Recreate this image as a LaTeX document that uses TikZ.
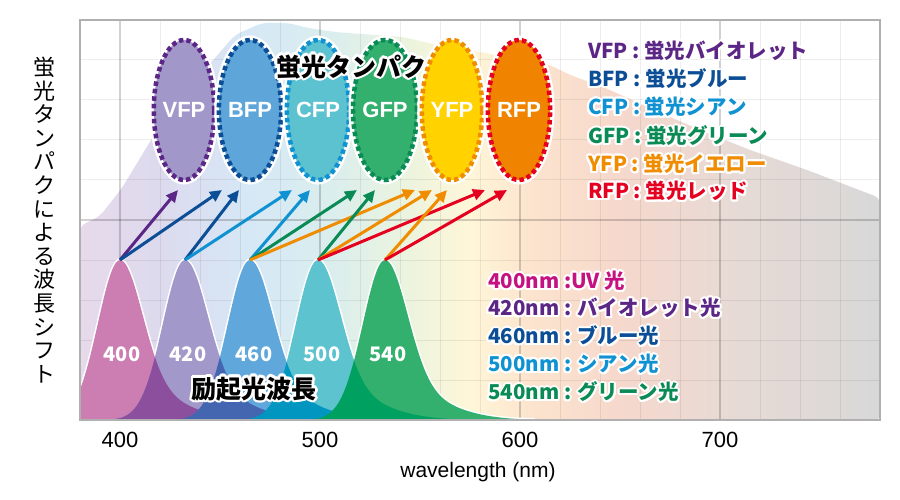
\documentclass[tikz,border=0pt]{standalone}
\usepackage{fontspec}
\setmainfont{Liberation Sans}
\newfontfamily\jp{Noto Sans CJK JP}
\usepackage[copies]{contour}
\contourlength{2pt}
\contournumber{16}
\usetikzlibrary{shapes.geometric,arrows.meta}

% line and text colours
\definecolor{cV}{RGB}{92,38,134}
\definecolor{cB}{RGB}{12,78,150}
\definecolor{cC}{RGB}{16,146,210}
\definecolor{cG}{RGB}{10,138,84}
\definecolor{cY}{RGB}{240,140,0}
\definecolor{cR}{RGB}{230,0,32}
\definecolor{cUV}{RGB}{198,18,128}
% protein fills
\definecolor{fV}{RGB}{161,151,201}
\definecolor{fB}{RGB}{94,166,218}
\definecolor{fC}{RGB}{92,194,207}
\definecolor{fG}{RGB}{51,176,110}
\definecolor{fY}{RGB}{255,210,0}
\definecolor{fR}{RGB}{240,131,0}
% excitation peaks and their overlaps
\definecolor{k400}{RGB}{204,125,178}
\definecolor{k420}{RGB}{162,153,202}
\definecolor{k460}{RGB}{96,168,220}
\definecolor{k500}{RGB}{92,195,207}
\definecolor{k540}{RGB}{52,176,110}
\definecolor{o1}{RGB}{139,79,158}
\definecolor{o2}{RGB}{68,102,176}
\definecolor{o3}{RGB}{0,150,192}
\definecolor{o4}{RGB}{0,160,96}
% spectrum background
\definecolor{s0}{RGB}{231,218,234}
\definecolor{s1}{RGB}{221,218,238}
\definecolor{s2}{RGB}{214,232,246}
\definecolor{s3}{RGB}{218,238,238}
\definecolor{s4}{RGB}{236,244,222}
\definecolor{s5}{RGB}{255,246,216}
\definecolor{s6}{RGB}{252,228,206}
\definecolor{s7}{RGB}{246,216,204}
\definecolor{s8}{RGB}{230,218,214}
\definecolor{s9}{RGB}{216,216,216}
\definecolor{framec}{RGB}{176,176,176}
\pgfdeclarehorizontalshading{spectrum}{100bp}{color(0bp)=(s0); color(25bp)=(s0);
  color(30bp)=(s1); color(35.6bp)=(s2); color(40.6bp)=(s3); color(45.6bp)=(s4);
  color(49.4bp)=(s5); color(53.1bp)=(s6); color(58.75bp)=(s7); color(66.25bp)=(s8);
  color(75bp)=(s9); color(100bp)=(s9)}

\begin{document}
\begin{tikzpicture}[x=1pt, y=-1pt,
  declare function={pk(\d)=(\d<0) ? 160*exp(-0.5*(\d/22)*(\d/22))
      : 125*exp(-0.5*(\d/22)*(\d/22))+35*exp(-0.5*(\d/50)*(\d/50));},
  fp/.style={ellipse, minimum width=54, minimum height=140, inner sep=0pt,
    line width=4.5pt, dash pattern=on 4.5pt off 3pt, text=white,
    font=\bfseries\fontsize{22}{26}\selectfont,
    preaction={draw=white, line width=9pt, solid}},
  arr/.style={line width=3pt, -{Triangle[length=12pt,width=11pt]}},
  pklbl/.style={text=white, font=\jp\bfseries\fontsize{20}{22}\selectfont},
  lgd/.style={anchor=west, inner sep=0pt, font=\jp\bfseries\fontsize{20.5}{22}\selectfont},
  tick/.style={font=\fontsize{22}{24}\selectfont},
  gridminor/.style={black, opacity=0.07, line width=1pt},
  gridmajor/.style={black, opacity=0.18, line width=1.2pt}]

\useasboundingbox (0,0) rectangle (900,500);
\fill[white] (0,0) rectangle (900,500);

% spectrum of the shifted emission
\shade[shading=spectrum, rounded corners=6pt] (80,420) -- (80,226) -- (100,216) -- (122,188)
  -- (148,145) -- (175,102) -- (215,58) -- (235,35) -- (262,23) -- (288,23) -- (308,28)
  -- (335,32) -- (375,35) -- (403,37) -- (437,45) -- (480,52) -- (550,65) -- (570,75)
  -- (603,87) -- (650,108) -- (700,130) -- (750,150) -- (807,170) -- (880,198)
  -- (880,420) -- cycle;

% grid
\foreach \gx in {160,200,240,280,360,400,440,480,560,600,640,680,760,800,840}
  \draw[gridminor] (\gx,20) -- (\gx,420);
\foreach \gy in {60,100,140,180,260,300,340,380}
  \draw[gridminor] (80,\gy) -- (880,\gy);
\foreach \gx in {120,320,520,720}
  \draw[gridmajor] (\gx,20) -- (\gx,420);
\draw[gridmajor] (80,220) -- (880,220);

% excitation peaks
\begin{scope}
  \clip (80,20) rectangle (880,420);
  \foreach \c in {120,185,250,318,385}{
    \pgfmathsetmacro{\plo}{\c-90}\pgfmathsetmacro{\pup}{\c+150}
    \draw[white, line width=3pt] plot[domain=\plo:\pup, samples=121] (\x,{420-pk(\x-\c)});
  }
  \foreach \c/\k in {120/k400,185/k420,250/k460,318/k500,385/k540}{
    \pgfmathsetmacro{\plo}{\c-90}\pgfmathsetmacro{\pup}{\c+150}
    \fill[\k] (\plo,420) -- plot[domain=\plo:\pup, samples=121] (\x,{420-pk(\x-\c)})
      -- (\pup,420) -- cycle;
  }
  \foreach \a/\b/\o in {120/185/o1,185/250/o2,250/318/o3,318/385/o4}{
    \pgfmathsetmacro{\alo}{\a-90}\pgfmathsetmacro{\aup}{\a+150}
    \pgfmathsetmacro{\blo}{\b-90}\pgfmathsetmacro{\bup}{\b+150}
    \begin{scope}
      \clip (\alo,420) -- plot[domain=\alo:\aup, samples=121] (\x,{420-pk(\x-\a)})
        -- (\aup,420) -- cycle;
      \fill[\o] (\blo,420) -- plot[domain=\blo:\bup, samples=121] (\x,{420-pk(\x-\b)})
        -- (\bup,420) -- cycle;
    \end{scope}
  }
\end{scope}

\node[pklbl] (l400) at (122,354) {400};
\node[pklbl] (l420) at (188,354) {420};
\node[pklbl] (l460) at (254,354) {460};
\node[pklbl] (l500) at (322,354) {500};
\node[pklbl] (l540) at (388,354) {540};
\node[font=\jp\bfseries\fontsize{25}{27}\selectfont] (excite) at (254,390)
  {\contourlength{2.5pt}\contour{white}{励起光波長}};

% peak tops and arrow ends
\coordinate (p400) at (120,260);
\coordinate (p420) at (185,260);
\coordinate (p460) at (250,260);
\coordinate (p500) at (318,260);
\coordinate (p540) at (385,260);
\foreach \n/\tx in {aV/178,aB1/222,aB2/239,aC1/292,aC2/310,aG1/357,aG2/375,
    aY1/415,aY2/432,aY3/447,aR1/485,aR2/507}
  \coordinate (\n) at (\tx,190);

\draw[arr, cV] (p400) -- (aV);
\draw[arr, cB] (p400) -- (aB1);
\draw[arr, cB] (p420) -- (aB2);
\draw[arr, cC] (p420) -- (aC1);
\draw[arr, cC] (p460) -- (aC2);
\draw[arr, cG] (p460) -- (aG1);
\draw[arr, cY] (p460) -- (aY1);
\draw[arr, cG] (p500) -- (aG2);
\draw[arr, cY] (p500) -- (aY2);
\draw[arr, cR] (p500) -- (aR1);
\draw[arr, cY] (p540) -- (aY3);
\draw[arr, cR] (p540) -- (aR2);

% fluorescent proteins
\node[fp, draw=cV, fill=fV] (VFP) at (184,110) {VFP};
\node[fp, draw=cB, fill=fB] (BFP) at (250,110) {BFP};
\node[fp, draw=cC, fill=fC] (CFP) at (318,110) {CFP};
\node[fp, draw=cG, fill=fG] (GFP) at (385,110) {GFP};
\node[fp, draw=cY, fill=fY] (YFP) at (452,110) {YFP};
\node[fp, draw=cR, fill=fR] (RFP) at (519,110) {RFP};
\node[font=\jp\bfseries\fontsize{25}{27}\selectfont] (title) at (351,68)
  {\contourlength{2.5pt}\contour{white}{蛍光タンパク}};

% legends
\node[lgd, text=cV] (lgV) at (588,52) {\contour{white}{VFP : 蛍光バイオレット}};
\node[lgd, text=cB] (lgB) at (588,80) {\contour{white}{BFP : 蛍光ブルー}};
\node[lgd, text=cC] (lgC) at (588,108) {\contour{white}{CFP : 蛍光シアン}};
\node[lgd, text=cG] (lgG) at (588,137) {\contour{white}{GFP : 蛍光グリーン}};
\node[lgd, text=cY] (lgY) at (588,165) {\contour{white}{YFP : 蛍光イエロー}};
\node[lgd, text=cR] (lgR) at (588,192) {\contour{white}{RFP : 蛍光レッド}};

\node[lgd, text=cUV] (lg400) at (488,282) {\contour{white}{400nm :UV 光}};
\node[lgd, text=cV] (lg420) at (488,309) {\contour{white}{420nm : バイオレット光}};
\node[lgd, text=cB] (lg460) at (488,337) {\contour{white}{460nm : ブルー光}};
\node[lgd, text=cC] (lg500) at (488,365) {\contour{white}{500nm : シアン光}};
\node[lgd, text=cG] (lg540) at (488,393) {\contour{white}{540nm : グリーン光}};

% axes
\draw[framec, line width=1.5pt] (80,20) rectangle (880,420);
\foreach \v in {400,500,600,700}
  \node[tick] (tk\v) at ({120+2*(\v-400)},440) {\v};
\node[font=\fontsize{21}{24}\selectfont] (xlab) at (478,472) {wavelength (nm)};
\node[font=\jp\fontsize{22}{23.6}\selectfont, align=center, inner sep=0pt] (ylab) at (44,220)
  {蛍\\光\\タ\\ン\\パ\\ク\\に\\よ\\る\\波\\長\\シ\\フ\\ト};

\end{tikzpicture}
\end{document}
